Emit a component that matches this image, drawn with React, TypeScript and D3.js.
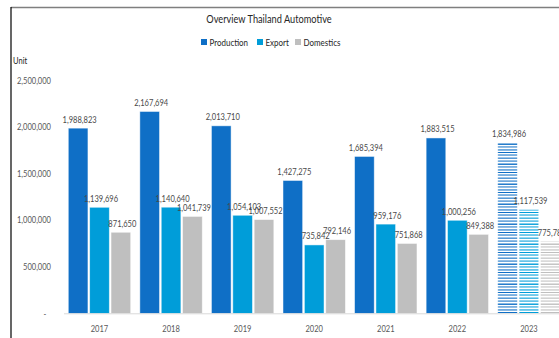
import React from "react";
import * as d3 from "d3";

const years = ["2017", "2018", "2019", "2020", "2021", "2022", "2023"];
const production = [1988823, 2167694, 2013710, 1427275, 1685394, 1883515, 1834986];
const exportVals = [1139696, 1140640, 1054103, 735842, 959176, 1000256, 1117539];
const domestics = [871650, 1041739, 1007552, 792146, 751868, 849388, 775780];
const seriesNames = ["Production", "Export", "Domestics"];
const seriesColors = ["#0F6FC6", "#009DD9", "#BFBFBF"];
const yTicks = [0, 500000, 1000000, 1500000, 2000000, 2500000];
const forecastYear = "2023";

const W = 559;
const H = 338;
const SX = 0.84;
const FONT = "Lato, 'Open Sans', sans-serif";

function T({ x, y, size, fill, anchor, weight, children }: any) {
  return (
    <text
      transform={`translate(${x},${y}) scale(${SX},1)`}
      fontSize={size}
      fill={fill}
      textAnchor={anchor || "start"}
      fontFamily={FONT}
      fontWeight={weight || 400}
    >
      {children}
    </text>
  );
}

const stripeRows = [0.45, 0.6, 0, 0.5, 0.9, 0, 0.55, 0.45, 0, 0.6, 0.5, 0, 1, 0, 0.5, 0.55, 0, 0.4, 0.7, 0];

export default function App() {
  const series = [production, exportVals, domestics];
  const y = d3.scaleLinear().domain([0, 2500000]).range([313.5, 80.5]);
  const x = d3.scaleBand().domain(years).range([63.7, 564.7]).paddingInner(0.128).paddingOuter(0.064);
  const xi = d3.scaleBand().domain(seriesNames).range([0, x.bandwidth()]).paddingInner(0.08);
  const fmt = d3.format(",");

  const legendX = [201, 257, 295];

  return (
    <div style={{ position: "absolute", left: 0, top: 0, width: W, height: H, overflow: "hidden" }}>
      <svg width={W} height={H} style={{ display: "block", background: "#fff" }}>
        <defs>
          {seriesColors.map((c, si) => (
            <pattern key={si} id={`fc${si}`} width={4} height={stripeRows.length} patternUnits="userSpaceOnUse">
              <rect width={4} height={stripeRows.length} fill="#fff" />
              {stripeRows.map((o, r) =>
                o > 0 ? <rect key={r} x={0} y={r} width={4} height={1} fill={c} fillOpacity={o} /> : null
              )}
            </pattern>
          ))}
        </defs>
        <line x1={11} x2={W} y1={7.5} y2={7.5} stroke="#7f7f7f" strokeWidth={1.5} />
        <line x1={11} x2={11} y1={7} y2={H} stroke="#000" strokeWidth={1.2} />

        <T x={269} y={22.5} size={11} fill="#262626" anchor="middle">Overview Thailand Automotive</T>

        {seriesNames.map((n, i) => (
          <g key={n}>
            <rect x={legendX[i]} y={39} width={6} height={6} fill={seriesColors[i]} />
            <T x={legendX[i] + 8.5} y={45.5} size={9.5} fill="#262626">{n}</T>
          </g>
        ))}

        <T x={13} y={64} size={9} fill="#262626">Unit</T>

        {yTicks.map((t) => (
          <T key={t} x={t === 0 ? 45 : 51} y={y(t) + 3} size={9} fill="#595959" anchor={t === 0 ? "middle" : "end"}>
            {t === 0 ? "-" : fmt(t)}
          </T>
        ))}

        {years.map((yr, yi) => (
          <g key={yr} transform={`translate(${x(yr)},0)`}>
            {series.map((vals, si) => {
              const v = vals[yi];
              const bx = xi(seriesNames[si]) as number;
              const top = y(v);
              const fill = yr === forecastYear ? `url(#fc${si})` : seriesColors[si];
              return (
                <g key={si}>
                  <rect
                    x={bx}
                    y={top}
                    width={xi.bandwidth()}
                    height={y(0) - top}
                    fill={fill}
                    stroke="#ffffff"
                    strokeOpacity={0.6}
                    strokeWidth={0.8}
                  />
                  <T x={bx + xi.bandwidth() / 2 + 1.5} y={top - 5.5} size={9} fill="#4a4a4a" anchor="middle">
                    {fmt(v)}
                  </T>
                </g>
              );
            })}
          </g>
        ))}

        <line x1={64} x2={W} y1={313.8} y2={313.8} stroke="#D9D9D9" strokeWidth={1} />

        {years.map((yr) => (
          <T key={yr} x={(x(yr) as number) + x.bandwidth() / 2} y={332} size={9} fill="#595959" anchor="middle">
            {yr}
          </T>
        ))}
      </svg>
    </div>
  );
}
